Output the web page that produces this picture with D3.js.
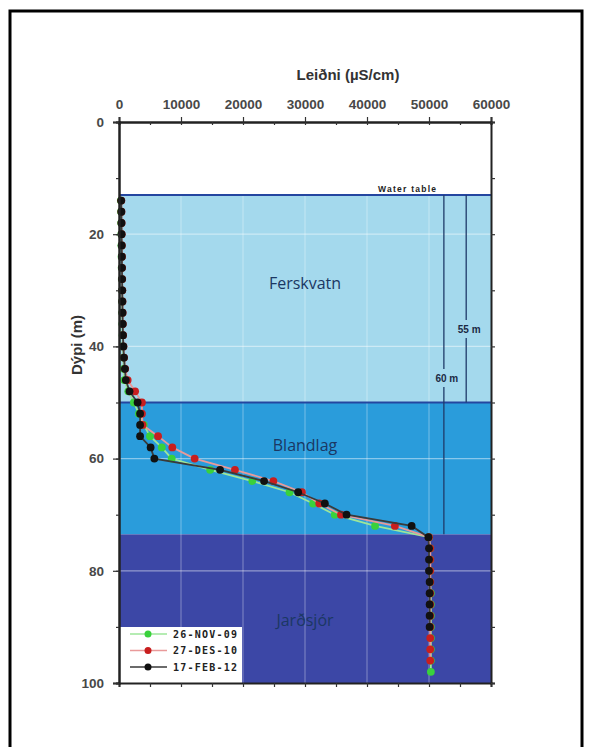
<!DOCTYPE html>
<html>
<head>
<meta charset="utf-8">
<script src="https://cdn.jsdelivr.net/npm/d3@7"></script>
<style>
  body { margin: 0; background: #fff; }
  svg { display: block; }
</style>
</head>
<body>
<svg id="chart" width="593" height="747"></svg>
<script>
// Leiðni vs dýpi, three measurement dates

const series_names = ["26-NOV-09", "27-DES-10", "17-FEB-12"];

// 26-NOV-09 (green)
const green_depth = [14,16,18,20,22,24,26,28,30,32,34,36,38,40,42,44,46,48,50,52,54,56,58,60,62,64,66,68,70,72,74,76,78,80,82,84,86,88,90,92,94,96,98];
const green_cond  = [300,330,350,370,390,410,430,450,470,490,510,540,570,620,700,750,850,1500,2400,3200,4000,5000,6900,8500,14700,21500,27500,31300,34800,41300,50000,50200,50200,50200,50200,50300,50300,50300,50300,50300,50300,50300,50300];

// 27-DES-10 (red)
const red_depth = [14,16,18,20,22,24,26,28,30,32,34,36,38,40,42,44,46,48,50,52,54,56,58,60,62,64,66,68,70,72,74,76,78,80,82,84,86,88,90,92,94,96];
const red_cond  = [380,400,420,440,460,480,500,520,540,560,590,620,660,720,820,1000,1400,2600,3700,3700,3800,6300,8600,12200,18700,24900,29500,32300,35800,44500,50000,50200,50200,50200,50200,50200,50200,50200,50200,50200,50200,50200];

// 17-FEB-12 (black)
const black_depth = [14,16,18,20,22,24,26,28,30,32,34,36,38,40,42,44,46,48,50,52,54,56,58,60,62,64,66,68,70,72,74,76,78,80,82,84,86,88,90];
const black_cond  = [350,380,400,420,440,460,480,500,520,540,570,600,640,700,800,950,1100,1700,3000,3400,3400,3400,5100,5700,16300,23400,28900,33200,36700,47200,49900,50000,50000,50000,50100,50100,50100,50100,50100];

const x_ticks = [0,10000,20000,30000,40000,50000,60000];
const y_ticks = [0,20,40,60,80,100];

// zones: name, top depth, bottom depth
const zone_names = ["Ferskvatn", "Blandlag", "Jarðsjór"];
const zone_top = [13, 50, 73.5];
const zone_bottom = [50, 73.5, 100];
const zone_colors = ["#a4d9ed", "#2a9cdb", "#3c47a6"];

const water_table = 13;

const svg = d3.select("#chart");
const x = d3.scaleLinear().domain([0, 60000]).range([119, 491]);
const y = d3.scaleLinear().domain([0, 100]).range([122, 683]);

// outer frame
svg.append("rect")
    .attr("x", 10).attr("y", 11)
    .attr("width", 572).attr("height", 760)
    .attr("fill", "none")
    .attr("stroke", "#000")
    .attr("stroke-width", 3);

// coloured zones
svg.selectAll(".zone")
    .data(zone_names)
    .join("rect")
    .attr("class", "zone")
    .attr("x", x(0))
    .attr("width", x(60000) - x(0))
    .attr("y", (d, i) => y(zone_top[i]))
    .attr("height", (d, i) => y(zone_bottom[i]) - y(zone_top[i]))
    .attr("fill", (d, i) => zone_colors[i]);

// grid lines, pale over the colours
const grid = svg.append("g").attr("stroke", "#fff").attr("stroke-width", 1.2);
grid.selectAll(".vgrid")
    .data(x_ticks.slice(1, -1))
    .join("line")
    .attr("x1", d => x(d)).attr("x2", d => x(d))
    .attr("y1", y(0)).attr("y2", y(100))
    .attr("stroke-opacity", 0.3);
grid.selectAll(".hgrid")
    .data(y_ticks.slice(1, -1))
    .join("line")
    .attr("x1", x(0)).attr("x2", x(60000))
    .attr("y1", d => y(d)).attr("y2", d => y(d))
    .attr("stroke-opacity", 0.45);

// zone boundaries
svg.selectAll(".boundary")
    .data([water_table, 50])
    .join("line")
    .attr("x1", x(0)).attr("x2", x(60000))
    .attr("y1", d => y(d)).attr("y2", d => y(d))
    .attr("stroke", "#2446a0")
    .attr("stroke-width", 2);

// zone labels
svg.selectAll(".zone_label")
    .data(zone_names)
    .join("text")
    .attr("x", 305)
    .attr("y", (d, i) => [289, 451, 626][i])
    .attr("text-anchor", "middle")
    .attr("font-family", "Open Sans, sans-serif")
    .attr("font-size", 16)
    .attr("fill", "#1b3763")
    .text(d => d);

// water table + thickness lines
svg.append("text")
    .attr("x", 407).attr("y", 192)
    .attr("text-anchor", "middle")
    .attr("font-family", "Liberation Sans, Arial, sans-serif")
    .attr("font-weight", "bold")
    .attr("font-size", 8.5)
    .attr("textLength", 58)
    .attr("fill", "#222")
    .text("Water table");

function drawThickness(xv, bottom, label, label_y) {
    const g = svg.append("g").attr("stroke", "#1f3b6a").attr("stroke-width", 1.3);
    g.append("line")
        .attr("x1", x(xv)).attr("x2", x(xv))
        .attr("y1", y(water_table)).attr("y2", label_y - 9);
    g.append("line")
        .attr("x1", x(xv)).attr("x2", x(xv))
        .attr("y1", label_y + 9).attr("y2", y(bottom));
    svg.append("text")
        .attr("x", x(xv) + 3).attr("y", label_y + 3.5)
        .attr("text-anchor", "middle")
        .attr("font-family", "Liberation Sans, Arial, sans-serif")
        .attr("font-weight", "bold")
        .attr("font-size", 10)
        .attr("fill", "#1b2a44")
        .text(label);
}
drawThickness(52400, 73.5, "60 m", 378);
drawThickness(56000, 50, "55 m", 329);

// data series
const all_series = [
    {depth: green_depth, cond: green_cond, dot: "#39d13c", line: "#9de69a"},
    {depth: red_depth, cond: red_cond, dot: "#c81e1e", line: "#e99a9a"},
    {depth: black_depth, cond: black_cond, dot: "#111", line: "#3a3a3a"}
];
const line = d3.line().x(p => x(p[1])).y(p => y(p[0]));

all_series.forEach(s => {
    const pts = d3.zip(s.depth, s.cond);
    svg.append("path")
        .attr("d", line(pts))
        .attr("fill", "none")
        .attr("stroke", s.line)
        .attr("stroke-width", 1.8);
    svg.append("g").selectAll("circle")
        .data(pts)
        .join("circle")
        .attr("cx", p => x(p[1]))
        .attr("cy", p => y(p[0]))
        .attr("r", 3.9)
        .attr("fill", s.dot);
});

// legend box
const legend = svg.append("g");
legend.append("rect")
    .attr("x", x(0)).attr("y", 627)
    .attr("width", 123).attr("height", y(100) - 627)
    .attr("fill", "#fff");
series_names.forEach((name, i) => {
    const ly = 634 + i * 16.5;
    legend.append("line")
        .attr("x1", 130).attr("x2", 167)
        .attr("y1", ly).attr("y2", ly)
        .attr("stroke", all_series[i].line)
        .attr("stroke-width", 1.6);
    legend.append("circle")
        .attr("cx", 148).attr("cy", ly).attr("r", 3.5)
        .attr("fill", all_series[i].dot);
    legend.append("text")
        .attr("x", 173).attr("y", ly + 3.5)
        .attr("font-family", "DejaVu Sans Mono, monospace")
        .attr("font-weight", "bold")
        .attr("font-size", 10)
        .attr("textLength", 64)
        .attr("fill", "#222")
        .text(name);
});

// axes
function styleAxis(g) {
    g.selectAll("path").attr("stroke", "#222").attr("stroke-width", 2);
    g.selectAll("line").attr("stroke", "#333").attr("stroke-width", 1.2);
    g.selectAll("text")
        .attr("font-family", "Liberation Sans, Arial, sans-serif")
        .attr("font-size", 13.5)
        .attr("font-weight", "bold")
        .attr("fill", "#484848");
}
const x_minor = d3.range(0, 60001, 5000);
const y_minor = d3.range(0, 101, 10);

svg.append("g").attr("transform", `translate(0,${y(0)})`)
    .call(d3.axisTop(x).tickValues(x_ticks).tickFormat(d3.format("d")).tickSize(5).tickPadding(8))
    .call(styleAxis);
svg.append("g").attr("transform", `translate(0,${y(0)})`)
    .call(d3.axisBottom(x).tickValues(x_minor).tickFormat("").tickSize(3))
    .call(styleAxis);
svg.append("g").attr("transform", `translate(0,${y(100)})`)
    .call(d3.axisBottom(x).tickValues(x_minor).tickFormat("").tickSize(4))
    .call(styleAxis);
svg.append("g").attr("transform", `translate(${x(0)},0)`)
    .call(d3.axisLeft(y).tickValues(y_ticks).tickSize(6).tickPadding(9))
    .call(styleAxis);
svg.append("g").attr("transform", `translate(${x(0)},0)`)
    .call(d3.axisLeft(y).tickValues(y_minor).tickFormat("").tickSize(3))
    .call(styleAxis);
svg.append("g").attr("transform", `translate(${x(60000)},0)`)
    .call(d3.axisRight(y).tickValues(y_minor).tickFormat("").tickSize(4))
    .call(styleAxis);

// axis titles
svg.append("text")
    .attr("x", 348).attr("y", 80)
    .attr("text-anchor", "middle")
    .attr("font-family", "Liberation Sans, Arial, sans-serif")
    .attr("font-weight", "bold")
    .attr("font-size", 15)
    .attr("fill", "#333")
    .text("Leiðni (µS/cm)");
svg.append("text")
    .attr("transform", "translate(82,345) rotate(-90)")
    .attr("text-anchor", "middle")
    .attr("font-family", "Liberation Sans, Arial, sans-serif")
    .attr("font-weight", "bold")
    .attr("font-size", 15)
    .attr("fill", "#333")
    .text("Dýpi (m)");
</script>
</body>
</html>
